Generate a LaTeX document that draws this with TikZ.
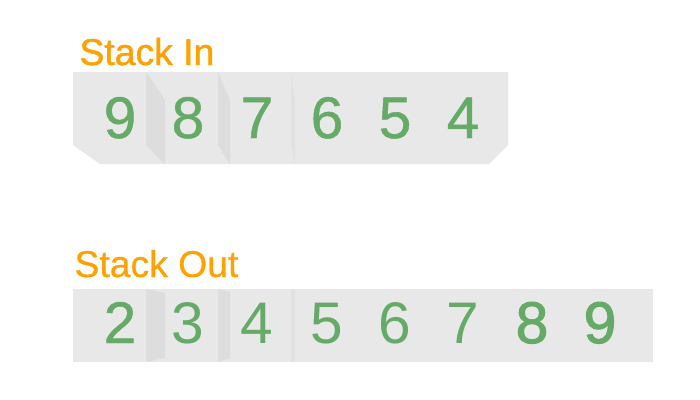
\documentclass[tikz,border=0pt]{standalone}
\usepackage{fontspec}
\setmainfont{Liberation Sans}
\newfontface\titleheavy{Liberation Sans}[FakeBold=1.2]
\newfontface\titlemedium{Liberation Sans}[FakeBold=0.5]
\newfontface\digitmedium{Liberation Sans}[FakeBold=0.8]
\newfontface\digitheavy{Liberation Sans}[FakeBold=1.8]
\definecolor{stackgrey}{RGB}{232, 232, 232}
\definecolor{foldgrey}{RGB}{221, 221, 221}
\definecolor{foldlight}{RGB}{225, 225, 225}
\definecolor{labelorange}{RGB}{255, 161, 0}
\definecolor{digitgreen}{RGB}{102, 170, 104}
\usepackage{tikz}
\tikzset{every picture/.style={line width=0.75pt}}
\tikzset{
  stacktitle/.style={anchor=base west, inner sep=0pt, text=labelorange, font=\fontsize{28}{30}\titlemedium},
  digit/.style={anchor=base, inner sep=0pt, text=digitgreen, font=\fontsize{44}{46}\selectfont},
  meddigit/.style={digit, font=\fontsize{44}{46}\digitmedium},
  heavydigit/.style={digit, font=\fontsize{44}{46}\digitheavy}
}

\begin{document}
\begin{tikzpicture}[x=0.75pt,y=0.75pt,yscale=-1,xscale=1]
\useasboundingbox (0,0) rectangle (700,400); %diagram is 700 by 400

%Shape: Stack In body
\fill [stackgrey] (73,72) -- (508,72) -- (508,145) -- (489,164) -- (100,164) -- (73,145) -- cycle ;
%Shape: fold 1
\fill [foldgrey] (146,72) -- (165,100) -- (165,164) -- (146,145) -- cycle ;
%Shape: fold 2
\fill [foldgrey] (218,72) -- (230,100) -- (230,164) -- (218,145) -- cycle ;
%Shape: fold 3
\fill [foldlight] (291,72) -- (295,100) -- (295,164) -- (291,145) -- cycle ;

%Shape: Stack Out body
\fill [stackgrey] (73,289) -- (653,289) -- (653,362) -- (73,362) -- cycle ;
%Shape: fold 1
\fill [foldgrey] (146,289) -- (165,293) -- (165,358) -- (146,362) -- cycle ;
%Shape: fold 2
\fill [foldgrey] (218,289) -- (230,292) -- (230,358) -- (218,362) -- cycle ;
%Shape: fold 3
\fill [foldlight] (291,289) -- (295,290) -- (295,361) -- (291,362) -- cycle ;

% Text Node
\draw (79,65) node [stacktitle, font=\fontsize{28}{30}\titleheavy] (titleIn) {Stack In};
% Text Node
\draw (74,277) node [stacktitle] (titleOut) {Stack Out};

% Stack In digits
\draw (120,138) node [meddigit] (in9) {9};
\draw (188,138) node [meddigit] (in8) {8};
\draw (257,138) node [meddigit] (in7) {7};
\draw (327,138) node [meddigit] (in6) {6};
\draw (395,138) node [meddigit] (in5) {5};
\draw (463,138) node [meddigit] (in4) {4};

% Stack Out digits
\draw (120,343) node [meddigit] (out2) {2};
\draw (188,343) node [digit] (out3) {3};
\draw (257,343) node [digit] (out4) {4};
\draw (327,343) node [digit] (out5) {5};
\draw (395,343) node [digit] (out6) {6};
\draw (463,343) node [digit] (out7) {7};
\draw (532,343) node [heavydigit] (out8) {8};
\draw (600,343) node [heavydigit] (out9) {9};

\end{tikzpicture}
\end{document}
